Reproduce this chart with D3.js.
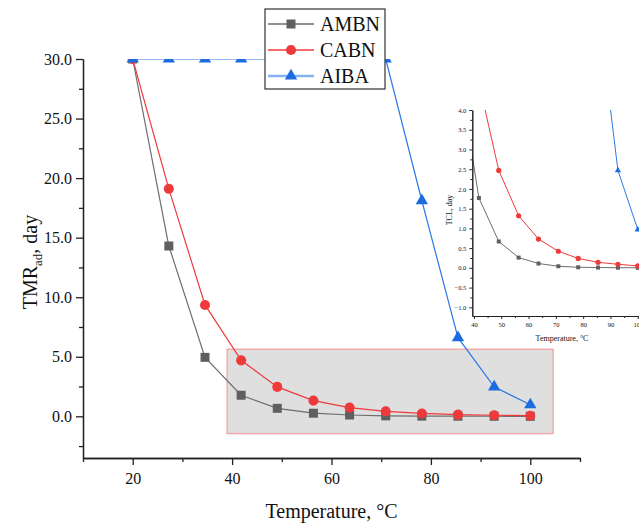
<!DOCTYPE html>
<html>
<head>
<meta charset="utf-8">
<script src="https://cdn.jsdelivr.net/npm/d3@7"></script>
<style>
    body { margin: 0; background: #fff; }
    svg, svg text { font-family: 'Liberation Serif', 'Times New Roman', serif !important; }
    .axis path, .axis line { stroke: #222; }
</style>
</head>
<body>
<div id="chart"></div>
<script>
// temperatures, °C
const temps = [20, 27.27, 34.55, 41.82, 49.09, 56.36, 63.64, 70.91, 78.18, 85.45, 92.73, 100];
// TMRad, day
const ambn = [30, 14.3, 4.95, 1.77, 0.67, 0.26, 0.11, 0.04, 0.015, 0.008, 0.004, 0.002];
const cabn = [30, 19.1, 9.35, 4.7, 2.47, 1.32, 0.73, 0.42, 0.24, 0.14, 0.09, 0.05];
const aiba = [30, 30, 30, 30, 30, 30, 30, 30, 18.1, 6.6, 2.47, 0.97];

const seriesNames = ['AMBN', 'CABN', 'AIBA'];
const xTicks = [20, 40, 60, 80, 100];
const yTicks = [0, 5, 10, 15, 20, 25, 30];
const insetXTicks = [40, 50, 60, 70, 80, 90, 100];
const insetYTicks = [-1, -0.5, 0, 0.5, 1, 1.5, 2, 2.5, 3, 3.5, 4];
// zoomed region shown in the inset
const zoomBox = { x0: 39, x1: 104.6, y0: -1.45, y1: 5.63 };

const series = [
    { name: seriesNames[0], values: ambn, color: '#5f5f5f', line: '#6e6e6e', legendLine: '#6e6e6e', symbol: d3.symbolSquare, size: 81, small: 16 },
    { name: seriesNames[1], values: cabn, color: '#ef3a3c', line: '#ef3a3c', legendLine: '#ef3a3c', symbol: d3.symbolCircle, size: 80, small: 21 },
    { name: seriesNames[2], values: aiba, color: '#1c6ce0', line: '#2b78e8', legendLine: '#84b4f0', symbol: d3.symbolTriangle, size: 66, small: 17 }
];

const width = 639;
const height = 524;

const svg = d3.select('#chart')
    .append('svg')
        .attr('width', width)
        .attr('height', height);

// ---------- main plot ----------
const xScale = d3.scaleLinear().domain([10, 110]).range([83, 580]);
const yScale = d3.scaleLinear().domain([-3.5, 30]).range([458, 59]);

svg.append('clipPath')
        .attr('id', 'main-clip')
    .append('rect')
        .attr('x', xScale(10))
        .attr('y', yScale(30))
        .attr('width', xScale(110) - xScale(10))
        .attr('height', yScale(-3.5) - yScale(30));

svg.append('rect')
    .attr('x', xScale(zoomBox.x0))
    .attr('y', yScale(zoomBox.y1))
    .attr('width', xScale(zoomBox.x1) - xScale(zoomBox.x0))
    .attr('height', yScale(zoomBox.y0) - yScale(zoomBox.y1))
    .attr('fill', '#dfdfdf')
    .attr('stroke', '#f2a2a2')
    .attr('stroke-width', 1.3);

const drawSeries = (g, xs, ys, sizeKey, lineWidth) => {
    const line = d3.line()
        .x((d, i) => xs(temps[i]))
        .y(d => ys(d));
    series.forEach(s => {
        g.append('path')
            .attr('d', line(s.values))
            .attr('fill', 'none')
            .attr('stroke', s.line)
            .attr('stroke-width', lineWidth);
    });
    series.forEach(s => {
        g.selectAll(null)
            .data(s.values)
            .join('path')
                .attr('transform', (d, i) => `translate(${xs(temps[i])},${ys(d)})`)
                .attr('d', d3.symbol().type(s.symbol).size(s[sizeKey]))
                .attr('fill', s.color);
    });
};

const plot = svg.append('g').attr('clip-path', 'url(#main-clip)');
drawSeries(plot, xScale, yScale, 'size', 1.2);

// axes
svg.append('g')
    .classed('axis', true)
    .attr('transform', `translate(0,${yScale(-3.5)})`)
    .call(d3.axisBottom(xScale)
        .tickValues(xTicks)
        .tickFormat(d3.format('d'))
        .tickSize(7)
        .tickSizeOuter(0)
        .tickPadding(8));
svg.append('g')
    .classed('axis', true)
    .attr('transform', `translate(0,${yScale(-3.5)})`)
    .call(d3.axisBottom(xScale)
        .tickValues([10, 30, 50, 70, 90, 110])
        .tickFormat('')
        .tickSize(4)
        .tickSizeOuter(0));

svg.append('g')
    .classed('axis', true)
    .attr('transform', `translate(${xScale(10)},0)`)
    .call(d3.axisLeft(yScale)
        .tickValues(yTicks)
        .tickFormat(d3.format('.1f'))
        .tickSize(7)
        .tickSizeOuter(0)
        .tickPadding(4));
svg.append('g')
    .classed('axis', true)
    .attr('transform', `translate(${xScale(10)},0)`)
    .call(d3.axisLeft(yScale)
        .tickValues([-2.5, 2.5, 7.5, 12.5, 17.5, 22.5, 27.5])
        .tickFormat('')
        .tickSize(4)
        .tickSizeOuter(0));

svg.selectAll('.axis')
    .attr('font-family', null);
svg.selectAll('.axis path, .axis line').attr('stroke-width', 1.3);
svg.selectAll('.axis text')
    .style('font-family', "'Liberation Serif', 'Times New Roman', serif")
    .attr('font-size', 16)
    .attr('fill', '#111');

svg.append('text')
    .attr('x', (xScale(10) + xScale(110)) / 2)
    .attr('y', 518)
    .attr('text-anchor', 'middle')
    .attr('font-size', 20)
    .attr('fill', '#111')
    .text('Temperature, °C');

const yLabel = svg.append('text')
    .attr('transform', 'translate(37,262) rotate(-90)')
    .attr('text-anchor', 'middle')
    .attr('font-size', 20)
    .attr('fill', '#111');
yLabel.append('tspan').text('TMR');
yLabel.append('tspan').attr('font-size', 13).attr('dy', 5).text('ad');
yLabel.append('tspan').attr('dy', -5).text(', day');

// legend
const legend = svg.append('g').attr('transform', 'translate(265,9)');
legend.append('rect')
    .attr('width', 120)
    .attr('height', 80)
    .attr('fill', '#fff')
    .attr('stroke', '#333')
    .attr('stroke-width', 1.2);
series.forEach((s, i) => {
    const row = legend.append('g').attr('transform', `translate(0,${15 + i * 26})`);
    row.append('line')
        .attr('x1', 3).attr('x2', 49)
        .attr('stroke', s.legendLine)
        .attr('stroke-width', i === 2 ? 2.5 : 1.3);
    row.append('path')
        .attr('transform', 'translate(26,0)')
        .attr('d', d3.symbol().type(s.symbol).size(s.size))
        .attr('fill', s.color);
    row.append('text')
        .attr('x', 55)
        .attr('y', 7)
        .attr('font-size', 20)
        .attr('fill', '#111')
        .text(s.name);
});

// ---------- inset ----------
const ix = d3.scaleLinear().domain([39.4, 104]).range([472.3, 648.7]);
const iy = d3.scaleLinear().domain([-1.22, 4]).range([316, 110]);

svg.append('clipPath')
        .attr('id', 'inset-clip')
    .append('rect')
        .attr('x', ix(39.4))
        .attr('y', iy(4))
        .attr('width', ix(104) - ix(39.4))
        .attr('height', iy(-1.22) - iy(4));

const inset = svg.append('g').attr('clip-path', 'url(#inset-clip)');
drawSeries(inset, ix, iy, 'small', 1);

const insetAxes = svg.append('g').classed('inset-axes', true);
insetAxes.append('g')
    .classed('axis', true)
    .attr('transform', `translate(0,${iy(-1.22)})`)
    .call(d3.axisBottom(ix)
        .tickValues(insetXTicks)
        .tickFormat(d3.format('d'))
        .tickSize(3)
        .tickSizeOuter(0)
        .tickPadding(3));
insetAxes.append('g')
    .classed('axis', true)
    .attr('transform', `translate(0,${iy(-1.22)})`)
    .call(d3.axisBottom(ix)
        .tickValues([45, 55, 65, 75, 85, 95])
        .tickFormat('')
        .tickSize(2)
        .tickSizeOuter(0));
insetAxes.append('g')
    .classed('axis', true)
    .attr('transform', `translate(${ix(39.4)},0)`)
    .call(d3.axisLeft(iy)
        .tickValues(insetYTicks)
        .tickFormat(d3.format('.1f'))
        .tickSize(3)
        .tickSizeOuter(0)
        .tickPadding(3));
insetAxes.append('g')
    .classed('axis', true)
    .attr('transform', `translate(${ix(39.4)},0)`)
    .call(d3.axisLeft(iy)
        .tickValues([-0.75, -0.25, 0.25, 0.75, 1.25, 1.75, 2.25, 2.75, 3.25, 3.75])
        .tickFormat('')
        .tickSize(2)
        .tickSizeOuter(0));

insetAxes.selectAll('.axis').attr('font-family', null);
insetAxes.selectAll('path, line').attr('stroke-width', 1);
insetAxes.selectAll('text')
    .style('font-family', "'Liberation Serif', 'Times New Roman', serif")
    .attr('font-size', 6.5)
    .attr('fill', '#111');

svg.append('text')
    .attr('x', 562)
    .attr('y', 341)
    .attr('text-anchor', 'middle')
    .attr('font-size', 8)
    .attr('fill', '#111')
    .text('Temperature, °C');

svg.append('text')
    .attr('transform', 'translate(452,210) rotate(-90)')
    .attr('text-anchor', 'middle')
    .attr('font-size', 8)
    .attr('fill', '#111')
    .text('TCL, day');
</script>
</body>
</html>
